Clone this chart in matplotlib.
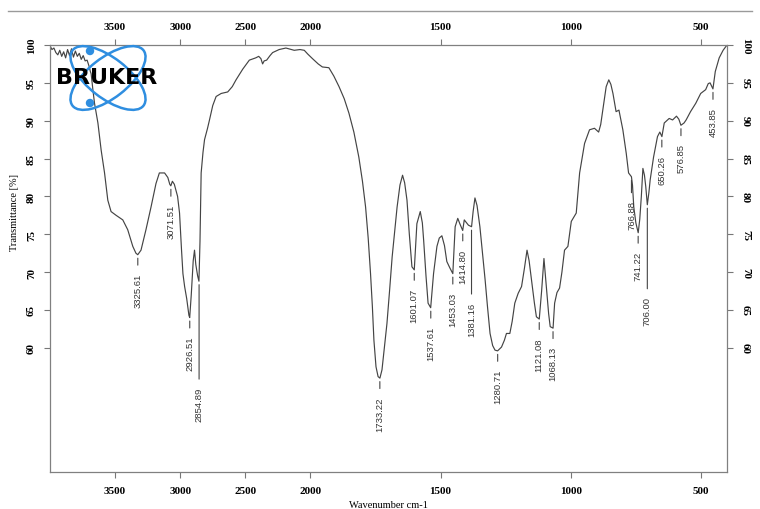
import numpy as np
import matplotlib
matplotlib.use('Agg')
import matplotlib.pyplot as plt
from matplotlib.patches import Ellipse, Circle
from matplotlib.lines import Line2D

# spectrum (wavenumber cm-1, transmittance %)
wavenumber = [4000, 3985, 3970, 3955, 3940, 3925, 3910, 3895, 3880, 3865, 3850, 3835,
              3820, 3805, 3790, 3775, 3760, 3745, 3730, 3715, 3700, 3690, 3684, 3670,
              3658, 3645, 3632, 3607, 3581, 3556, 3531, 3492, 3441, 3403, 3364, 3340,
              3326, 3301, 3263, 3224, 3186, 3160, 3120, 3095, 3080, 3072, 3060, 3045,
              3020, 3005, 2990, 2979, 2966, 2950, 2933, 2927, 2915, 2900, 2890, 2880,
              2866, 2856, 2848, 2839, 2825, 2813, 2790, 2775, 2750, 2724, 2685, 2635,
              2600, 2571, 2520, 2469, 2420, 2397, 2380, 2367, 2355, 2336, 2310, 2290,
              2240, 2188, 2124, 2080, 2047, 2020, 1992, 1970, 1954, 1929, 1910, 1890,
              1870, 1852, 1833, 1814, 1800, 1788, 1778, 1769, 1762, 1756, 1748, 1740,
              1733, 1725, 1716, 1706, 1696, 1686, 1676, 1667, 1656, 1646, 1638, 1629,
              1620, 1610, 1601, 1591, 1578, 1570, 1565, 1556, 1548, 1538, 1527, 1514,
              1505, 1495, 1485, 1476, 1465, 1453, 1444, 1434, 1425, 1415, 1409, 1400,
              1393, 1381, 1375, 1368, 1360, 1349, 1339, 1329, 1320, 1310, 1300, 1291,
              1281, 1266, 1255, 1247, 1234, 1225, 1215, 1202, 1189, 1178, 1168, 1160,
              1151, 1140, 1132, 1121, 1112, 1103, 1095, 1085, 1079, 1068, 1062, 1053,
              1043, 1034, 1024, 1011, 998, 979, 966, 947, 928, 909, 893, 885,
              877, 864, 854, 846, 838, 826, 815, 800, 787, 778, 767, 763,
              758, 750, 741, 735, 729, 723, 717, 712, 706, 700, 695, 682,
              667, 658, 650, 641, 622, 609, 594, 585, 577, 565, 557, 540,
              520, 501, 482, 472, 465, 454, 445, 430, 415, 400]
transmittance = [99.9, 99.4, 99.6, 99.0, 98.7, 99.3, 98.5, 99.1, 98.3, 99.4, 98.6, 99.5,
                 98.4, 99.2, 98.5, 98.9, 98.1, 98.6, 97.9, 98.0, 97.2, 96.5, 96.2, 94.0,
                 92.3, 91.0, 89.7, 86.1, 83.1, 79.5, 78.0, 77.5, 76.9, 75.6, 73.4, 72.5,
                 72.3, 72.9, 75.6, 78.6, 81.7, 83.1, 83.1, 82.5, 81.6, 81.4, 82.0, 81.6,
                 80.0, 77.8, 73.0, 69.8, 68.1, 66.5, 64.3, 64.0, 67.0, 71.5, 72.9, 71.0,
                 69.5, 68.8, 74.0, 83.1, 85.8, 87.5, 89.0, 90.1, 92.0, 93.2, 93.6, 93.8,
                 94.5, 95.4, 96.8, 98.0, 98.3, 98.5, 98.2, 97.5, 97.9, 98.0, 98.6, 99.0,
                 99.4, 99.6, 99.3, 99.4, 99.3, 98.8, 98.2, 97.5, 97.1, 97.0, 95.9, 94.5,
                 92.9, 91.0, 88.5, 85.2, 82.0, 78.6, 74.5, 69.8, 65.5, 61.0, 57.5, 56.2,
                 56.0, 57.1, 60.0, 63.2, 67.5, 72.0, 75.5, 78.6, 81.5, 82.8, 81.8, 79.5,
                 75.0, 70.7, 70.3, 76.4, 78.0, 76.5, 74.2, 69.5, 65.9, 65.3, 69.8, 73.4,
                 74.5, 74.8, 73.5, 71.4, 70.6, 69.8, 76.0, 77.1, 76.3, 75.5, 76.9, 76.5,
                 76.2, 76.0, 78.0, 79.8, 78.8, 76.0, 72.5, 69.0, 65.5, 61.9, 60.3, 59.7,
                 59.6, 60.1, 61.0, 61.9, 61.9, 63.5, 65.9, 67.2, 68.1, 70.5, 72.9, 71.5,
                 69.0, 66.0, 64.1, 63.8, 67.5, 71.8, 68.5, 64.5, 62.8, 62.6, 65.9, 67.3,
                 67.9, 70.0, 72.9, 73.4, 76.7, 77.8, 83.1, 87.0, 88.8, 89.0, 88.5, 89.5,
                 91.4, 94.5, 95.4, 94.8, 93.6, 91.2, 91.4, 88.8, 85.7, 83.1, 82.6, 81.5,
                 78.6, 76.5, 75.2, 77.0, 80.0, 83.7, 82.8, 81.3, 78.9, 80.5, 82.2, 85.2,
                 87.9, 88.5, 87.9, 89.7, 90.3, 90.1, 90.6, 90.2, 89.4, 89.7, 90.1, 91.2,
                 92.3, 93.6, 94.1, 94.9, 95.0, 94.2, 96.5, 98.3, 99.3, 100.0]

# peak picks: position, transmittance at the peak, drop of the label (points)
peak_wn = [3325.61, 3071.51, 2926.51, 2854.89, 1733.22, 1601.07, 1537.61, 1453.03,
           1414.80, 1381.16, 1280.71, 1121.08, 1068.13, 766.88, 741.22, 706.00,
           650.26, 576.85, 453.85]
peak_t = [72.3, 81.4, 64.0, 68.8, 56.0, 70.3, 65.3, 69.8, 75.5, 76.0, 59.6, 63.8,
          62.6, 82.6, 75.2, 78.9, 87.9, 89.4, 94.2]
peak_drop = [13, 13, 13, 76, 13, 13, 13, 13, 13, 54, 13, 13, 13, 17, 13, 66, 13, 13, 13]

xtick_vals = [3500, 3000, 2500, 2000, 1500, 1000, 500]
ytick_vals = [60, 65, 70, 75, 80, 85, 90, 95, 100]


# Bruker style axis: below 2000 cm-1 the scale is stretched by two
def fwd(x):
    x = np.asarray(x, float)
    return np.where(x <= 2000, x, 2000 + (x - 2000) / 2.0)

def inv(u):
    u = np.asarray(u, float)
    return np.where(u <= 2000, u, 2000 + (u - 2000) * 2.0)


plt.rcParams['font.family'] = 'Liberation Serif'
plt.rcParams['font.weight'] = 'bold'

fig = plt.figure(figsize=(7.6, 5.1), dpi=100)
fig.add_artist(Line2D([8/760., 752/760.], [1-12/510., 1-12/510.], color='#9a9a9a', lw=1))

ax = fig.add_axes([50/760., 1-473/510., 677/760., 427/510.])
ax.set_xscale('function', functions=(fwd, inv))
ax.plot(wavenumber, transmittance, color='#444444', lw=0.85)
ax.set_xlim(4000, 400)
ax.set_ylim(43.6, 100)

ax.set_xticks(xtick_vals)
ax.set_xticklabels([str(v) for v in xtick_vals])
ax.set_yticks(ytick_vals)
ax.set_yticklabels([str(v) for v in ytick_vals])
ax.minorticks_off()
ax.tick_params(direction='out', length=4, width=0.8, color='#777777', labelsize=8,
               top=True, right=True, labeltop=True, labelright=True, pad=6)
for t in ax.yaxis.get_major_ticks():
    t.label1.set_rotation(90)
    t.label1.set_va('center')
    t.label2.set_rotation(270)
    t.label2.set_va('center')
for s in ax.spines.values():
    s.set_color('#808080')
    s.set_linewidth(0.9)

ax.set_xlabel('Wavenumber cm-1', fontsize=7.5)
ax.xaxis.set_label_coords(0.5, -0.066)
ax.set_ylabel('Transmittance [%]', fontsize=7.5)
ax.yaxis.set_label_coords(-0.046, 0.61)

for w, t, d in zip(peak_wn, peak_t, peak_drop):
    ax.annotate('%.2f' % w, xy=(w, t), xytext=(0, -d), textcoords='offset points',
                rotation=90, ha='center', va='top', fontsize=6.8, color='#333333',
                family='Liberation Sans', weight='normal',
                arrowprops=dict(arrowstyle='-', color='#444444', lw=0.8,
                                shrinkA=3.5, shrinkB=2.5))

# Bruker logo, drawn in pixel units
lg = fig.add_axes([45/760., 1-115/510., 125/760., 75/510.])
lg.set_xlim(45, 170)
lg.set_ylim(115, 40)
lg.axis('off')
blue = '#2f8ee0'
lg.add_patch(Ellipse((108, 79), 90, 40, angle=38, fill=False, ec=blue, lw=1.8))
lg.add_patch(Ellipse((108, 79), 90, 40, angle=-38, fill=False, ec=blue, lw=1.8))
lg.add_patch(Circle((90, 52), 3.5, color=blue))
lg.add_patch(Circle((90, 104), 3.5, color=blue))
lg.text(107, 78, 'BRUKER', ha='center', va='center', fontsize=16,
        family='DejaVu Sans', weight='heavy', color='black')

plt.savefig('out.png', dpi=100)
